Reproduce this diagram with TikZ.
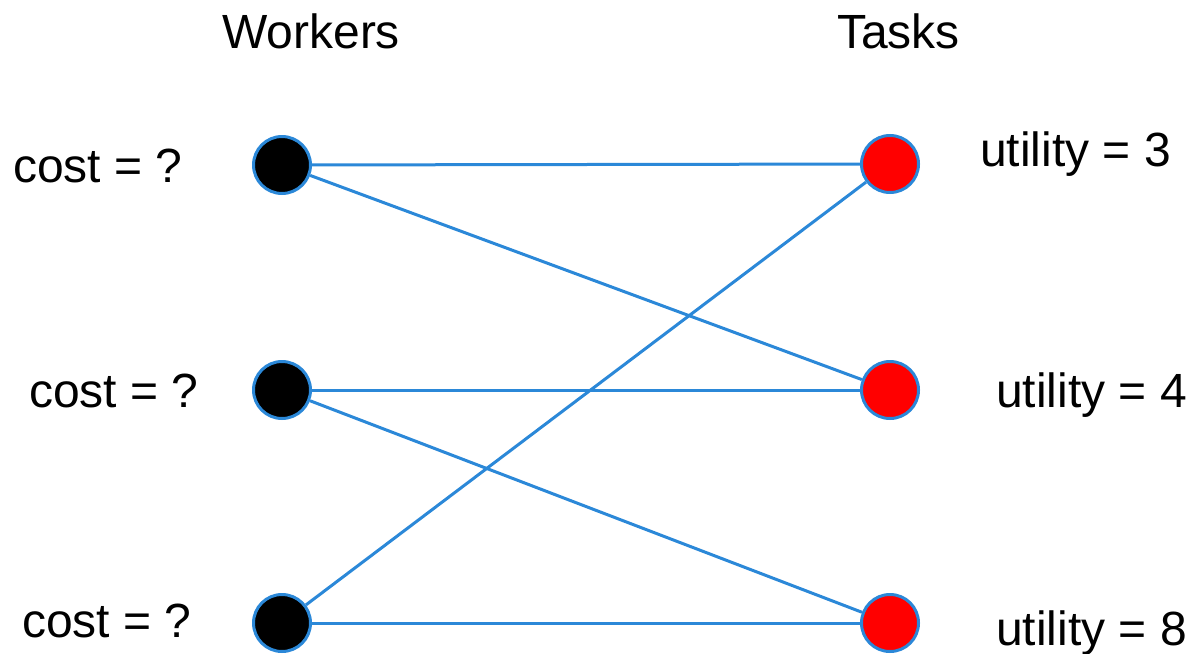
\documentclass[tikz,border=0pt]{standalone}
\usepackage{fontspec}
\setmainfont{Liberation Sans}
\definecolor{edgeblue}{HTML}{2B88D8}
\begin{document}
\begin{tikzpicture}[x=1pt,y=-1pt,
  worker/.style={circle,fill=black,draw=edgeblue,line width=3pt,minimum size=57pt,inner sep=0pt},
  task/.style={circle,fill=red,draw=edgeblue,line width=3pt,minimum size=57pt,inner sep=0pt},
  lbl/.style={anchor=base west,inner sep=0pt,font=\fontsize{48}{56}\selectfont},
  link/.style={draw=edgeblue,line width=3pt}]
\useasboundingbox (0,0) rectangle (1188,653);
\node[lbl] (hw) at (222,48) {Workers};
\node[lbl] (ht) at (837,48) {Tasks};
\node[lbl] (c1) at (13,182) {cost = ?};
\node[lbl] (c2) at (29,407) {cost = ?};
\node[lbl] (c3) at (22,637) {cost = ?};
\node[lbl] (u1) at (980,166) {utility = 3};
\node[lbl] (u2) at (996,407) {utility = 4};
\node[lbl] (u3) at (996,645) {utility = 8};
\node[worker] (w1) at (282,165) {};
\node[worker] (w2) at (282,390) {};
\node[worker] (w3) at (282,623) {};
\node[task] (t1) at (890,164) {};
\node[task] (t2) at (890,390) {};
\node[task] (t3) at (890,623) {};
\draw[link] (w1) -- (t1);
\draw[link] (w1) -- (t2);
\draw[link] (w2) -- (t2);
\draw[link] (w2) -- (t3);
\draw[link] (w3) -- (t1);
\draw[link] (w3) -- (t3);
\end{tikzpicture}
\end{document}
